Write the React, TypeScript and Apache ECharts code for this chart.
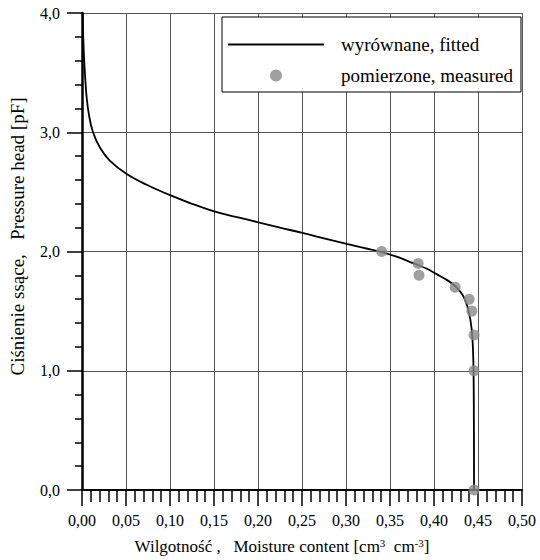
import React, { useEffect, useRef } from "react";
import * as echarts from "echarts";

const fittedTheta = [0.0008, 0.0014, 0.0025, 0.0037, 0.0052, 0.0078, 0.0125, 0.0205, 0.0318, 0.0508, 0.0735, 0.1008, 0.125, 0.151, 0.175, 0.2015, 0.225, 0.2515, 0.275, 0.3008, 0.32, 0.3386, 0.36, 0.377, 0.392, 0.403, 0.415, 0.424, 0.433, 0.439, 0.4428, 0.4447, 0.4453, 0.4455];
const fittedH = [4.0, 3.8, 3.6, 3.45, 3.3, 3.15, 3.0, 2.87, 2.76, 2.65, 2.56, 2.47, 2.4, 2.335, 2.29, 2.243, 2.2, 2.154, 2.11, 2.063, 2.03, 2.0, 1.95, 1.9, 1.855, 1.81, 1.76, 1.71, 1.63, 1.51, 1.35, 1.08, 0.6, 0.0];

const measuredTheta = [0.3405, 0.382, 0.383, 0.424, 0.44, 0.443, 0.4455, 0.4455, 0.4455];
const measuredH = [2.0, 1.9, 1.8, 1.7, 1.6, 1.5, 1.3, 1.0, 0.0];

const seriesNames = ["wyrównane, fitted", "pomierzone, measured"];
const xTitle = "Wilgotność ,   Moisture content [cm{sup|3}  cm{sup|-3}]";
const yTitle = "Ciśnienie ssące,   Pressure head [pF]";

const FONT = "Liberation Serif";

export default function App() {
  const ref = useRef<HTMLDivElement>(null);
  useEffect(() => {
    if (!ref.current) return;
    const chart = echarts.init(ref.current, null, { renderer: "svg" });
    const option: any = {
      animation: false,
      backgroundColor: "#fff",
      textStyle: { fontFamily: FONT, color: "#000" },
      grid: { left: 82, right: 18, top: 13, bottom: 68 },
      legend: {
        orient: "vertical",
        left: 222,
        top: 17,
        padding: [18, 8, 7, 6],
        itemWidth: 96,
        itemHeight: 12,
        itemGap: 12,
        backgroundColor: "#fff",
        borderColor: "#000",
        borderWidth: 1,
        textStyle: { fontFamily: FONT, fontSize: 19, color: "#000", padding: [0, 0, 0, 12] },
        data: [
          { name: seriesNames[0], icon: "path://M0,0h96v2h-96z" },
          { name: seriesNames[1] },
        ],
      },
      xAxis: {
        type: "value",
        min: 0,
        max: 0.5,
        interval: 0.05,
        name: xTitle,
        nameLocation: "middle",
        nameGap: 47,
        nameTextStyle: {
          fontFamily: FONT,
          fontSize: 17,
          color: "#000",
          padding: [0, 40, 0, 0],
          rich: { sup: { fontFamily: FONT, fontSize: 11, color: "#000", padding: [0, 0, 8, 0] } },
        },
        axisLine: { show: true, lineStyle: { color: "#000", width: 2 } },
        axisTick: { show: true, length: 16, lineStyle: { color: "#000", width: 1.5 } },
        minorTick: { show: true, splitNumber: 5, length: 12, lineStyle: { color: "#000", width: 1.5 } },
        axisLabel: {
          margin: 22,
          fontFamily: FONT,
          fontSize: 16,
          color: "#000",
          formatter: (v: number) => v.toFixed(2).replace(".", ","),
        },
        splitLine: { show: true, lineStyle: { color: "#555", width: 1 } },
      },
      yAxis: {
        type: "value",
        min: 0,
        max: 4,
        interval: 1,
        name: yTitle,
        nameLocation: "middle",
        nameGap: 55,
        nameTextStyle: { fontFamily: FONT, fontSize: 19, color: "#000", padding: [0, 0, 0, 30] },
        axisLine: { show: true, lineStyle: { color: "#000", width: 2.5 } },
        axisTick: { show: true, length: 15, lineStyle: { color: "#000", width: 1.5 } },
        minorTick: { show: true, splitNumber: 5, length: 7, lineStyle: { color: "#000", width: 1.5 } },
        axisLabel: {
          margin: 22,
          fontFamily: FONT,
          fontSize: 16,
          color: "#000",
          formatter: (v: number) => v.toFixed(1).replace(".", ","),
        },
        splitLine: { show: true, lineStyle: { color: "#555", width: 1 } },
      },
      series: [
        {
          name: seriesNames[0],
          type: "line",
          data: fittedTheta.map((t, i) => [t, fittedH[i]]),
          symbol: "none",
          smooth: 0.4,
          lineStyle: { color: "#000", width: 1.8 },
          itemStyle: { color: "#000" },
          z: 3,
        },
        {
          name: seriesNames[1],
          type: "scatter",
          data: measuredTheta.map((t, i) => [t, measuredH[i]]),
          symbol: "circle",
          symbolSize: 11,
          itemStyle: { color: "#888888" },
          z: 4,
        },
      ],
    };
    chart.setOption(option);
    return () => chart.dispose();
  }, []);
  return (
    <div
      ref={ref}
      style={{ position: "absolute", left: 0, top: 0, width: 540, height: 560 }}
    />
  );
}
